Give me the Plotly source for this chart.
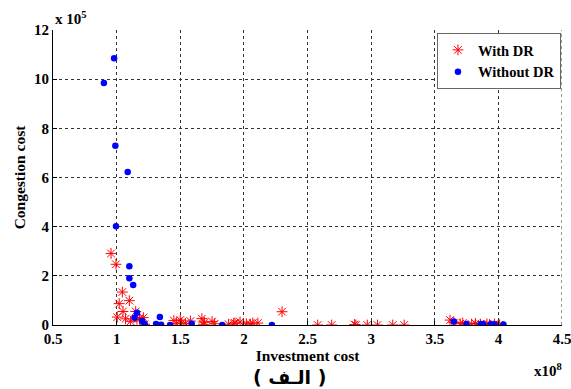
import plotly.graph_objects as go

# Investment cost (x10^8) and congestion cost (x10^5)
with_dr_x = [0.956, 0.995, 1.045, 1.02, 1.10, 1.05, 1.005, 1.07, 1.15, 1.11, 1.16, 1.21, 1.22, 1.18,
             1.45, 1.47, 1.50, 1.51, 1.54, 1.58, 1.67, 1.68, 1.69, 1.75, 1.77, 1.88, 1.92, 1.93, 1.97,
             2.02, 2.05, 2.07, 2.11, 2.30, 2.58, 2.69, 2.87, 2.88, 2.97, 3.05, 3.17, 3.26,
             3.62, 3.65, 3.70, 3.72, 3.79, 3.82, 3.86, 3.91, 3.93, 3.97, 4.01]
with_dr_y = [2.91, 2.47, 1.34, 0.87, 0.99, 0.55, 0.32, 0.25, 0.55, 0.15, 0.23, 0.30, 0.03, 0.27,
             0.18, 0.07, 0.20, 0.08, 0.07, 0.16, 0.26, 0.03, 0.11, 0.14, 0.05, 0.03, 0.07, 0.08, 0.12,
             0.05, 0.04, 0.08, 0.08, 0.54, 0.0, 0.0, 0.02, 0.0, 0.0, 0.0, 0.0, 0.0,
             0.20, 0.10, 0.05, 0.08, 0.04, 0.06, 0.03, 0.05, 0.02, 0.04, 0.01]

without_dr_x = [0.90, 0.98, 0.99, 1.087, 0.995, 1.10, 1.10, 1.13, 1.16, 1.14, 1.20, 1.22, 1.31, 1.34,
                1.35, 1.42, 1.59, 1.83, 2.22, 3.65, 3.75, 3.86, 3.88, 3.94, 3.97, 4.04]
without_dr_y = [9.84, 10.85, 7.29, 6.22, 4.02, 2.39, 1.90, 1.63, 0.50, 0.30, 0.16, 0.04, 0.04, 0.33,
                0.01, 0.0, 0.05, 0.0, 0.0, 0.14, 0.04, 0.04, 0.04, 0.03, 0.03, 0.02]

x_ticks = [0.5, 1, 1.5, 2, 2.5, 3, 3.5, 4, 4.5]
x_tick_labels = ["0.5", "1", "1.5", "2", "2.5", "3", "3.5", "4", "4.5"]
y_ticks = [0, 2, 4, 6, 8, 10, 12]
y_tick_labels = ["0", "2", "4", "6", "8", "10", "12"]

serif = "Liberation Serif, Times New Roman, serif"

fig = go.Figure()
fig.add_trace(go.Scatter(
    x=with_dr_x, y=with_dr_y, mode="markers", name="With DR",
    marker=dict(symbol="asterisk-open", size=9, color="#ff0000",
                line=dict(color="#ff0000", width=1)),
))
fig.add_trace(go.Scatter(
    x=without_dr_x, y=without_dr_y, mode="markers", name="Without DR",
    marker=dict(symbol="circle", size=6.5, color="#0000ff"),
))

axis_common = dict(
    showgrid=True, gridcolor="#333333", griddash="dot", gridwidth=1,
    zeroline=False, showline=True, linecolor="black", linewidth=1,
    ticks="inside", ticklen=4, tickcolor="black", automargin=False,
    ticklabeloverflow="allow",
    tickfont=dict(family=serif, size=15, color="black", weight="bold"),
)

fig.update_layout(
    width=571, height=389,
    margin=dict(l=53, r=9, t=30, b=64),
    plot_bgcolor="white", paper_bgcolor="white",
    showlegend=True,
    legend=dict(
        x=0.998, y=0.99, xanchor="right", yanchor="top",
        bgcolor="white", bordercolor="#666666", borderwidth=1,
        font=dict(family=serif, size=14.5, color="black", weight="bold"),
        tracegroupgap=0,
    ),
    xaxis=dict(
        range=[0.5, 4.5], tickvals=x_ticks, ticktext=x_tick_labels,
        title=dict(text="<b>Investment cost</b>", font=dict(family=serif, size=15.5, color="black"), standoff=2),
        **axis_common,
    ),
    yaxis=dict(
        range=[0, 12], tickvals=y_ticks, ticktext=y_tick_labels,
        title=dict(text="<b>Congestion cost</b>", font=dict(family=serif, size=15.5, color="black"), standoff=4),
        **axis_common,
    ),
)

# right-edge grid line at 4.5 (as in the reference)
fig.add_shape(type="line", xref="x", yref="paper", x0=4.5, x1=4.5, y0=0, y1=1,
              line=dict(color="#333333", width=1, dash="dot"), layer="below")

fig.add_annotation(text="<b>x 10<sup>5</sup></b>", xref="paper", yref="paper", x=0.0, y=1.0,
                   xanchor="left", yanchor="bottom", showarrow=False, yshift=1,
                   font=dict(family=serif, size=15, color="black"))
fig.add_annotation(text="<b>x10<sup>8</sup></b>", xref="paper", yref="paper", x=1.0, y=0,
                   xanchor="right", yanchor="top", showarrow=False, yshift=-34, xshift=2,
                   font=dict(family=serif, size=15, color="black"))
fig.add_annotation(text="<b>( الـف )</b>", xref="paper", yref="paper", x=0.465, y=0,
                   xanchor="center", yanchor="top", showarrow=False, yshift=-39,
                   font=dict(family="DejaVu Sans, Noto Sans", size=19, color="black"))

fig.write_html("out.html", config={"displayModeBar": False},
               post_script="document.body.style.margin='0';document.body.style.overflow='hidden';")
